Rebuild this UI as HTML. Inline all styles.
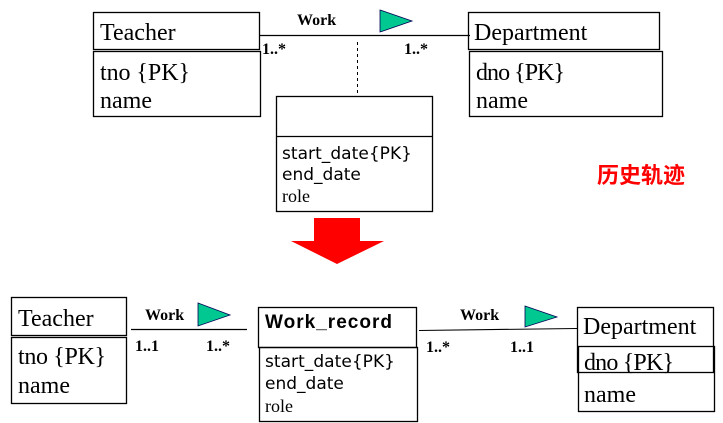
<!DOCTYPE html>
<html><head><meta charset="utf-8"><style>
html,body{margin:0;padding:0;background:#fff;}
svg{display:block;}
.s{font-family:"Liberation Serif",serif;fill:#000;}
.c{font-family:"DejaVu Sans","Liberation Sans",sans-serif;fill:#000;}
rect{fill:none;stroke:#000;stroke-width:1.3;}
</style></head><body>
<svg width="723" height="423" viewBox="0 0 723 423" xmlns="http://www.w3.org/2000/svg">
<!-- top -->
<rect x="93.5" y="12.5" width="166" height="37"/>
<rect x="93.5" y="51.5" width="167" height="65"/>
<text class="s" x="100" y="40" font-size="24">Teacher</text>
<text class="s" x="100" y="80" font-size="24" textLength="90">tno {PK}</text>
<text class="s" x="100" y="108" font-size="24">name</text>

<rect x="468.5" y="12.5" width="191" height="37"/>
<rect x="469.5" y="51.5" width="193" height="65"/>
<text class="s" x="474" y="40" font-size="24">Department</text>
<text class="s" x="476" y="80" font-size="24" textLength="89">dno {PK}</text>
<text class="s" x="476" y="108" font-size="24">name</text>

<line x1="260" y1="35.5" x2="470" y2="35.5" stroke="#000" stroke-width="1.3"/>
<text class="s" x="297" y="25" font-size="16" font-weight="bold">Work</text>
<polygon points="380,10 412,21 380,32" fill="#00c890" stroke="#005" stroke-width="0.8"/>
<text class="s" x="262" y="54" font-size="16" font-weight="bold">1..*</text>
<text class="s" x="404" y="54" font-size="16" font-weight="bold">1..*</text>
<line x1="357.5" y1="42" x2="357.5" y2="95" stroke="#000" stroke-width="1" stroke-dasharray="3,3"/>

<rect x="276.5" y="96.5" width="156" height="115"/>
<line x1="276.5" y1="136.5" x2="432.5" y2="136.5" stroke="#000" stroke-width="1.3"/>
<text class="c" x="282" y="159" font-size="17" textLength="130">start_date{PK}</text>
<text class="c" x="282" y="180" font-size="17">end_date</text>
<text class="s" x="282" y="202" font-size="18">role</text>

<text x="597" y="183" font-size="22" font-weight="bold" fill="#ff0000" font-family="'Noto Sans CJK SC',sans-serif">历史轨迹</text>

<!-- red arrow -->
<polygon points="314,218 360,218 360,241 384,241 337,264 291,241 314,241" fill="#ff0000"/>

<!-- bottom -->
<rect x="11.5" y="297.5" width="115" height="38"/>
<rect x="11.5" y="337.5" width="115" height="66"/>
<text class="s" x="18" y="326" font-size="24">Teacher</text>
<text class="s" x="18" y="364" font-size="24" textLength="88">tno {PK}</text>
<text class="s" x="18" y="393" font-size="24">name</text>

<line x1="131" y1="329.5" x2="247" y2="329.5" stroke="#000" stroke-width="1.3"/>
<text class="s" x="145" y="320" font-size="16" font-weight="bold">Work</text>
<polygon points="198,303 230,315 198,326" fill="#00c890" stroke="#005" stroke-width="0.8"/>
<text class="s" x="135" y="351" font-size="16" font-weight="bold">1..1</text>
<text class="s" x="206" y="351" font-size="16" font-weight="bold">1..*</text>

<rect x="258.5" y="307.5" width="158" height="40"/>
<rect x="259.5" y="347.5" width="158" height="74"/>
<text x="265" y="328" font-size="19" font-weight="bold" font-family="'Liberation Sans',sans-serif" textLength="127">Work_record</text>
<text class="c" x="265" y="367" font-size="17" textLength="130">start_date{PK}</text>
<text class="c" x="265" y="389" font-size="17">end_date</text>
<text class="s" x="265" y="412" font-size="18">role</text>

<line x1="419" y1="330.5" x2="577" y2="328.5" stroke="#000" stroke-width="1.1"/>
<text class="s" x="460" y="320" font-size="16" font-weight="bold">Work</text>
<polygon points="525,306 557,317 525,327" fill="#00c890" stroke="#005" stroke-width="0.8"/>
<text class="s" x="426" y="352" font-size="16" font-weight="bold">1..*</text>
<text class="s" x="510" y="352" font-size="16" font-weight="bold">1..1</text>

<rect x="577.5" y="307.5" width="136" height="65"/>
<rect x="578.5" y="346.5" width="136" height="65"/>
<text class="s" x="583" y="334" font-size="24">Department</text>
<text class="s" x="584" y="370" font-size="24" textLength="90">dno {PK}</text>
<text class="s" x="584" y="402" font-size="24">name</text>
</svg>
</body></html>
